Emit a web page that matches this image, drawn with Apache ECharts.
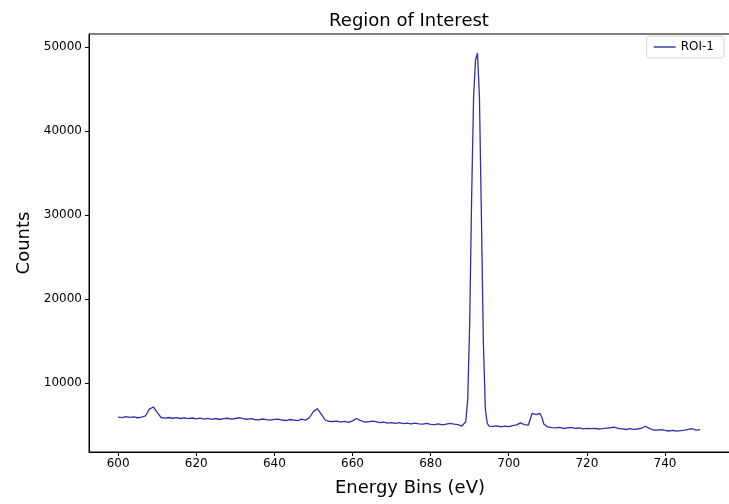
<!DOCTYPE html>
<html>
<head>
<meta charset="utf-8">
<script src="https://cdn.jsdelivr.net/npm/echarts@6/dist/echarts.min.js"></script>
<style>html,body{margin:0;padding:0;background:#fff;overflow:hidden;width:729px;height:504px}#c{width:736px;height:504px}</style>
</head>
<body>
<div id="c"></div>
<script>
const energy = [600,601,602,603,604,605,606,607,608,609,610,611,612,613,614,615,616,617,618,619,
620,621,622,623,624,625,626,627,628,629,630,631,632,633,634,635,636,637,638,639,
640,641,642,643,644,645,646,647,648,649,650,651,652,653,654,655,656,657,658,659,
660,661,662,663,664,665,666,667,668,669,670,671,672,673,674,675,676,677,678,679,
680,681,682,683,684,685,686,687,688,688.5,689,689.5,690,690.5,691,691.5,692,692.5,693,693.5,694,694.5,
695,696,697,698,699,700,701,702,703,704,705,706,706.5,707,707.5,708,708.5,709,
710,711,712,713,714,715,716,717,718,719,720,721,722,723,724,725,726,727,728,729,
730,731,732,733,734,735,736,737,738,739,740,741,742,743,744,745,746,747,748,749];
const counts = [5950,5880,5990,5910,5970,5870,5950,6080,6900,7150,6500,5900,5830,5900,5810,5880,5780,5860,5760,5840,
5740,5820,5700,5800,5680,5780,5660,5760,5810,5700,5780,5870,5760,5690,5760,5660,5620,5720,5640,5580,
5670,5710,5600,5540,5660,5590,5520,5700,5590,5900,6600,6950,6300,5600,5430,5420,5470,5360,5440,5330,
5500,5780,5550,5360,5380,5460,5400,5290,5340,5230,5300,5200,5280,5160,5230,5130,5240,5140,5110,5200,
5080,5040,5140,5030,5110,5190,5110,5050,4880,5000,5400,8000,17000,32000,44000,48500,49300,44000,30000,15000,7000,5200,
4880,4840,4910,4780,4860,4800,4920,5020,5250,5050,4980,6400,6550,6250,6300,6400,5900,5100,
4780,4690,4660,4730,4590,4670,4710,4610,4650,4550,4610,4570,4610,4530,4570,4630,4680,4750,4600,4540,
4470,4570,4490,4530,4620,4860,4600,4410,4400,4460,4370,4290,4370,4270,4330,4400,4480,4560,4400,4450];
const xTicks = [600,620,640,660,680,700,720,740];
const yTicks = [10000,20000,30000,40000,50000];
const seriesName = 'ROI-1';

const data = energy.map((e,i)=>[e,counts[i]]);
const font = 'DejaVu Sans';
const chart = echarts.init(document.getElementById('c'), null, {renderer:'canvas'});
chart.setOption({
  animation:false,
  backgroundColor:'#fff',
  textStyle:{fontFamily:font},
  grid:{left:89, right:5, top:34, bottom:52, show:true, borderColor:'#000', borderWidth:1, backgroundColor:'transparent'},
  graphic:[{type:'text', x:409, y:12, style:{text:'Region of Interest', fontFamily:font, fontSize:18, fill:'#000', textAlign:'center'}}],
  legend:{right:12, top:36, orient:'vertical', data:[{name:seriesName}], icon:'path://M0,0L22,0L22,1.4L0,1.4Z',
    itemWidth:22, itemHeight:2, itemGap:4, padding:[5,10,5,7], borderColor:'#d8d8d8', borderWidth:1, borderRadius:3,
    backgroundColor:'#fff', textStyle:{fontSize:12, color:'#000', fontFamily:font}},
  xAxis:{type:'value', min:592.55, max:756.9, name:'Energy Bins (eV)', nameLocation:'middle', nameGap:27,
    nameTextStyle:{fontSize:18, color:'#000', fontFamily:font},
    axisLine:{show:true, lineStyle:{color:'#000', width:1}},
    axisTick:{show:true, inside:false, length:4, customValues:xTicks, lineStyle:{color:'#000'}},
    axisLabel:{customValues:xTicks, fontSize:12, color:'#000', margin:6, fontFamily:font, formatter:v=>String(v)},
    splitLine:{show:false}},
  yAxis:{type:'value', min:1790, max:51570, name:'Counts', nameLocation:'middle', nameGap:56,
    nameTextStyle:{fontSize:18, color:'#000', fontFamily:font},
    axisLine:{show:true, lineStyle:{color:'#000', width:1}},
    axisTick:{show:true, inside:false, length:4, customValues:yTicks, lineStyle:{color:'#000'}},
    axisLabel:{customValues:yTicks, fontSize:12, color:'#000', margin:7, fontFamily:font, formatter:v=>String(v)},
    splitLine:{show:false}},
  series:[{name:seriesName, type:'line', data:data, showSymbol:false, symbol:'none',
    lineStyle:{color:'#3030ac', width:1.3}, itemStyle:{color:'#3030ac'}}]
});
</script>
</body>
</html>
